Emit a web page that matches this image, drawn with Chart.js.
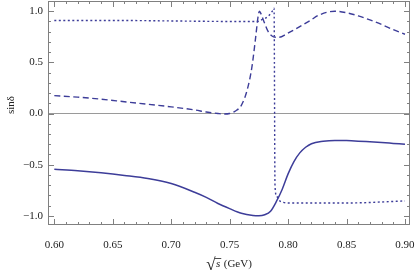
<!DOCTYPE html>
<html>
<head>
<meta charset="utf-8">
<script src="https://cdn.jsdelivr.net/npm/chart.js@4"></script>
<style>
html, body { margin: 0; padding: 0; background: #fff; }
</style>
</head>
<body>
<canvas id="plot" width="415" height="275"></canvas>
<script>
// solid curve
const solidX = [0.60, 0.62, 0.64, 0.66, 0.68, 0.70, 0.72, 0.73, 0.74, 0.75, 0.76, 0.77, 0.775, 0.78, 0.785, 0.79, 0.795, 0.80, 0.805, 0.81, 0.815, 0.82, 0.83, 0.84, 0.85, 0.86, 0.87, 0.88, 0.89, 0.90];
const solidY = [-0.545, -0.56, -0.58, -0.605, -0.635, -0.685, -0.77, -0.82, -0.88, -0.93, -0.975, -0.997, -1.0, -0.99, -0.955, -0.86, -0.74, -0.59, -0.47, -0.385, -0.33, -0.295, -0.272, -0.264, -0.265, -0.27, -0.277, -0.284, -0.292, -0.30];

// dashed curve
const dashX = [0.60, 0.62, 0.64, 0.66, 0.68, 0.70, 0.72, 0.73, 0.74, 0.745, 0.75, 0.755, 0.76, 0.765, 0.769, 0.772, 0.7745, 0.7755, 0.777, 0.779, 0.783, 0.7875, 0.792, 0.799, 0.807, 0.819, 0.826, 0.84, 0.85, 0.86, 0.87, 0.88, 0.89, 0.90];
const dashY = [0.175, 0.16, 0.14, 0.115, 0.09, 0.065, 0.035, 0.015, 0.0, -0.005, 0.0, 0.025, 0.08, 0.23, 0.45, 0.72, 0.96, 1.0, 0.97, 0.91, 0.80, 0.75, 0.745, 0.78, 0.83, 0.91, 0.96, 1.0, 0.985, 0.955, 0.915, 0.87, 0.82, 0.775];

// dotted curve
const dotX = [0.60, 0.65, 0.70, 0.75, 0.774, 0.778, 0.783, 0.787, 0.788, 0.7888, 0.790, 0.792, 0.796, 0.80, 0.85, 0.90];
const dotY = [0.91, 0.91, 0.905, 0.90, 0.90, 0.92, 0.95, 1.01, 1.03, -0.70, -0.80, -0.845, -0.868, -0.875, -0.875, -0.855];

const xTicks = [0.60, 0.65, 0.70, 0.75, 0.80, 0.85, 0.90];
const xLabels = ["0.60", "0.65", "0.70", "0.75", "0.80", "0.85", "0.90"];
const yTicks = [-1.0, -0.5, 0.0, 0.5, 1.0];
const yLabels = ["\u22121.0", "\u22120.5", "0.0", "0.5", "1.0"];

const lineColor = "rgb(61,61,153)";
const frameColor = "#808080";

function pts(xs, ys) {
  return xs.map((x, i) => ({ x: x, y: ys[i] }));
}

const frameTicks = {
  id: "frameTicks",
  afterDatasetsDraw(chart) {
    const c = chart.ctx, a = chart.chartArea;
    const xs = chart.scales.x, ys = chart.scales.y;
    c.save();
    c.strokeStyle = frameColor;
    c.lineWidth = 1;
    c.beginPath();
    // x minor ticks every 0.01, major every 0.05
    for (let i = 0; i <= 30; i++) {
      const px = Math.round(xs.getPixelForValue(0.60 + i * 0.01)) + 0.5;
      const len = i % 5 === 0 ? 6 : 3;
      c.moveTo(px, a.bottom); c.lineTo(px, a.bottom - len);
      c.moveTo(px, a.top); c.lineTo(px, a.top + len);
    }
    // y minor ticks every 0.1, major every 0.5
    for (let i = -10; i <= 10; i++) {
      const py = Math.round(ys.getPixelForValue(i * 0.1)) + 0.5;
      const len = i % 5 === 0 ? 6 : 3;
      c.moveTo(a.left, py); c.lineTo(a.left + len, py);
      c.moveTo(a.right, py); c.lineTo(a.right - len, py);
    }
    c.stroke();
    c.strokeRect(a.left + 0.5, a.top + 0.5, a.right - a.left - 1, a.bottom - a.top - 1);
    c.restore();
  },
  afterDraw(chart) {
    const c = chart.ctx, a = chart.chartArea;
    c.save();
    c.fillStyle = "#222";
    // y title
    c.translate(11, 105);
    c.rotate(-Math.PI / 2);
    c.font = "11px 'Liberation Serif'";
    c.textAlign = "center";
    c.textBaseline = "middle";
    c.fillText("sin\u03b4", 0, 0);
    c.restore();

    // x title: sqrt(s) (GeV)
    c.save();
    c.fillStyle = "#222";
    c.strokeStyle = "#222";
    c.textBaseline = "alphabetic";
    c.textAlign = "left";
    const cx = (a.left + a.right) / 2;
    c.font = "17px 'Liberation Serif'";
    const rw = c.measureText("\u221a").width;
    c.font = "italic 11px 'Liberation Serif'";
    const sw = c.measureText("s").width;
    c.font = "11px 'Liberation Serif'";
    const gw = c.measureText("(GeV)").width;
    const total = rw + sw + 4 + gw;
    let x0 = cx - total / 2;
    c.font = "17px 'Liberation Serif'";
    c.fillText("\u221a", x0, 270);
    c.lineWidth = 0.8;
    c.beginPath();
    c.moveTo(x0 + rw - 0.5, 258.5);
    c.lineTo(x0 + rw + sw + 1.5, 258.5);
    c.stroke();
    c.font = "italic 11px 'Liberation Serif'";
    c.fillText("s", x0 + rw + 0.5, 267);
    c.font = "11px 'Liberation Serif'";
    c.fillText("(GeV)", x0 + rw + sw + 4, 267);
    c.restore();
  }
};

new Chart(document.getElementById("plot"), {
  type: "line",
  data: {
    datasets: [
      { data: pts(solidX, solidY), borderColor: lineColor, borderWidth: 1.5 },
      { data: pts(dashX, dashY), borderColor: lineColor, borderWidth: 1.4, borderDash: [6, 3.5] },
      { data: pts(dotX, dotY), borderColor: lineColor, borderWidth: 1.4, borderDash: [2, 2.5] }
    ]
  },
  options: {
    responsive: false,
    animation: false,
    devicePixelRatio: 1,
    layout: { padding: { top: 1, right: 5, left: 0, bottom: 0 } },
    elements: {
      point: { radius: 0 },
      line: { cubicInterpolationMode: "monotone", fill: false }
    },
    plugins: { legend: { display: false }, tooltip: { enabled: false } },
    scales: {
      x: {
        type: "linear",
        min: 0.5946,
        max: 0.9043,
        afterBuildTicks: s => { s.ticks = xTicks.map(v => ({ value: v })); },
        afterFit: s => { s.height = 50; s.paddingLeft = 0; s.paddingRight = 0; },
        grid: { display: false },
        border: { display: false },
        ticks: {
          padding: 6,
          color: "#222",
          font: { family: "'Liberation Serif'", size: 11 },
          maxRotation: 0,
          autoSkip: false,
          callback: (v, i) => xLabels[i]
        }
      },
      y: {
        type: "linear",
        min: -1.09,
        max: 1.1,
        afterBuildTicks: s => { s.ticks = yTicks.map(v => ({ value: v })); },
        afterFit: s => { s.width = 48; s.paddingTop = 0; s.paddingBottom = 0; },
        grid: {
          drawTicks: false,
          color: ctx => (ctx.tick && ctx.tick.value === 0 ? "#9a9a9a" : "rgba(0,0,0,0)"),
          lineWidth: 1
        },
        border: { display: false },
        ticks: {
          padding: 5,
          color: "#222",
          font: { family: "'Liberation Serif'", size: 11 },
          callback: (v, i) => yLabels[i]
        }
      }
    }
  },
  plugins: [frameTicks]
});
</script>
</body>
</html>
